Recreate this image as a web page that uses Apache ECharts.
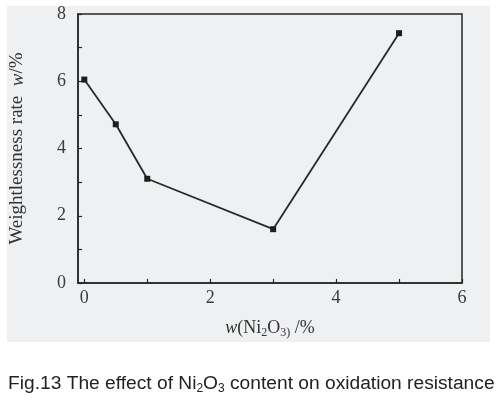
<!DOCTYPE html>
<html><head><meta charset="utf-8">
<script src="https://cdn.jsdelivr.net/npm/echarts@6/dist/echarts.min.js"></script>
<style>html,body{margin:0;padding:0;background:#fff}#c{width:502px;height:404px}</style>
</head><body><div id="c"></div>
<script>
var xValues = [0, 0.5, 1, 3, 5];
var yValues = [6.05, 4.72, 3.1, 1.6, 7.43];
var xTickLabels = [0, 2, 4, 6];
var xTicks = [0, 1, 2, 3, 4, 5, 6];
var yTickLabels = [0, 2, 4, 6, 8];
var yTicks = [0, 1, 2, 3, 4, 5, 6, 7, 8];

var serif = '"Liberation Serif","DejaVu Serif",serif';
var ink = '#262626';
var chart = echarts.init(document.getElementById('c'));
chart.setOption({
  animation: false,
  backgroundColor: '#ffffff',
  graphic: [
    {type: 'rect', z: -10, shape: {x: 7, y: 6, width: 483, height: 336}, style: {fill: '#eff0f2'}},
    {type: 'text', left: 8, top: 374, style: {
      text: '{n|Fig.13 The effect of Ni}{s|2}{n|O}{s|3}{n| content on oxidation resistance}',
      rich: {
        n: {fontFamily: '"Liberation Sans",Arial,sans-serif', fontSize: 19.2, fill: '#222', lineHeight: 22},
        s: {fontFamily: '"Liberation Sans",Arial,sans-serif', fontSize: 12, fill: '#222', lineHeight: 9, verticalAlign: 'bottom'}
      }
    }}
  ],
  grid: {left: 77, right: 40, top: 14, bottom: 121, show: true, borderColor: ink, borderWidth: 1.5, backgroundColor: 'transparent'},
  xAxis: {
    type: 'value', min: -0.1, max: 6,
    axisLine: {onZero: false, lineStyle: {color: ink, width: 1.5}},
    splitLine: {show: false},
    axisTick: {inside: true, length: 4, customValues: xTicks, lineStyle: {color: ink, width: 1.2}},
    axisLabel: {customValues: xTickLabels, color: '#3a3a3a', fontFamily: serif, fontSize: 18, margin: 6},
    name: '{i|w}{n|(Ni}{s|2}{n|O}{s|3)}{n| /%}',
    nameLocation: 'middle', nameGap: 34,
    nameTextStyle: {
      rich: {
        i: {fontFamily: serif, fontStyle: 'italic', fontSize: 18, color: '#333', lineHeight: 22},
        n: {fontFamily: serif, fontSize: 18, color: '#333', lineHeight: 22},
        s: {fontFamily: serif, fontSize: 12, color: '#333', lineHeight: 10, verticalAlign: 'bottom'}
      }
    }
  },
  yAxis: {
    type: 'value', min: 0, max: 8,
    axisLine: {onZero: false, lineStyle: {color: ink, width: 1.5}},
    splitLine: {show: false},
    axisTick: {inside: true, length: 4, customValues: yTicks, lineStyle: {color: ink, width: 1.2}},
    axisLabel: {customValues: yTickLabels, color: '#3a3a3a', fontFamily: serif, fontSize: 18, margin: 12},
    name: '{n|Weightlessness rate  }{i|w}{n|/%}',
    nameLocation: 'middle', nameGap: 51, nameRotate: 90,
    nameTextStyle: {
      rich: {
        i: {fontFamily: serif, fontStyle: 'italic', fontSize: 19, color: '#333'},
        n: {fontFamily: serif, fontSize: 19, color: '#333'}
      }
    }
  },
  series: [{
    type: 'line',
    data: xValues.map(function (x, i) { return [x, yValues[i]]; }),
    symbol: 'rect', symbolSize: 6,
    itemStyle: {color: '#1e1e1e'},
    lineStyle: {color: '#2a2a2a', width: 1.8}
  }]
});
</script></body></html>
